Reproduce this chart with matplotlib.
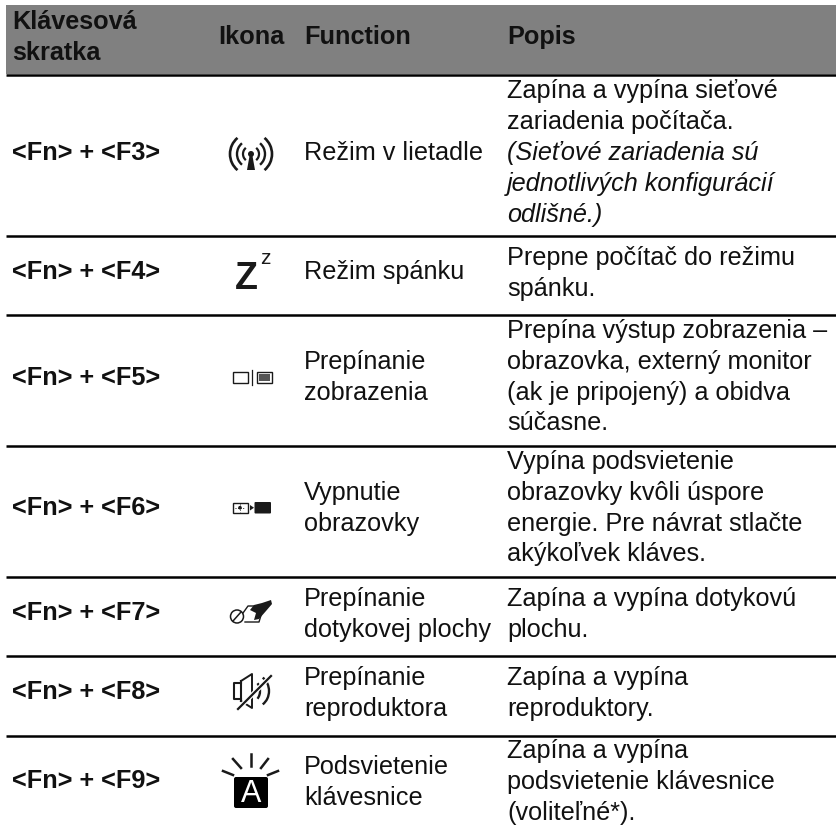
import matplotlib
matplotlib.use('Agg')
import matplotlib.pyplot as plt
from matplotlib.patches import Rectangle, Circle, Arc, Polygon, FancyBboxPatch

plt.rcParams['font.family'] = ['Liberation Sans', 'DejaVu Sans']

headers = ['Ikona', 'Function', 'Popis']
header_first = ['Klávesová', 'skratka']
keys = ['<Fn> + <F3>', '<Fn> + <F4>', '<Fn> + <F5>', '<Fn> + <F6>',
        '<Fn> + <F7>', '<Fn> + <F8>', '<Fn> + <F9>']
functions = [['Režim v lietadle'], ['Režim spánku'], ['Prepínanie', 'zobrazenia'],
             ['Vypnutie', 'obrazovky'], ['Prepínanie', 'dotykovej plochy'],
             ['Prepínanie', 'reproduktora'], ['Podsvietenie', 'klávesnice']]
descriptions = [['Zapína a vypína sieťové', 'zariadenia počítača.'],
                ['Prepne počítač do režimu', 'spánku.'],
                ['Prepína výstup zobrazenia –', 'obrazovka, externý monitor',
                 '(ak je pripojený) a obidva', 'súčasne.'],
                ['Vypína podsvietenie', 'obrazovky kvôli úspore',
                 'energie. Pre návrat stlačte', 'akýkoľvek kláves.'],
                ['Zapína a vypína dotykovú', 'plochu.'],
                ['Zapína a vypína', 'reproduktory.'],
                ['Zapína a vypína', 'podsvietenie klávesnice', '(voliteľné*).']]
note = ['(Sieťové zariadenia sú', 'jednotlivých konfigurácií', 'odlišné.)']

# polohy v pixeloch
row_lines = [75, 236, 315, 446, 577, 656, 736]
key_y = [160, 279, 385, 515, 620, 699, 788]
func_y = [160, 279, 369, 500, 606, 685, 774]
desc_y = [98, 265, 338, 469, 606, 685, 758]
note_y = 160
LINE = 30.8
FS = 18.2
X_KEY, X_FUNC, X_DESC = 12, 304, 507
TXT = '#111111'

fig = plt.figure(figsize=(8.36, 8.32), dpi=100)
ax = fig.add_axes([0, 0, 1, 1])
ax.set_xlim(0, 836)
ax.set_ylim(832, 0)
ax.axis('off')

ax.add_patch(Rectangle((6, 5), 830, 69, fc='#808080', ec='none'))
for y in row_lines:
    ax.plot([6, 836], [y, y], color='black', lw=1.8, solid_capstyle='butt')


def put(x, y, lines, **kw):
    for n, s in enumerate(lines):
        ax.text(x, y + n * LINE, s, fontsize=FS, color=TXT, va='baseline', **kw)


put(X_KEY, 29, header_first, fontweight='bold')
for x, h in zip([218, X_FUNC, X_DESC], headers):
    put(x, 44, [h], fontweight='bold')

for i in range(len(keys)):
    put(X_KEY, key_y[i], [keys[i]], fontweight='bold')
    put(X_FUNC, func_y[i], functions[i])
    put(X_DESC, desc_y[i], descriptions[i])
put(X_DESC, note_y, note, style='italic')

# ikony
K = '#1a1a1a'
# lietadlo / wifi
cx, cy = 251, 154
for r, lw in [(8, 1.6), (14, 1.7), (21, 1.9)]:
    ax.add_patch(Arc((cx, cy), 2 * r, 2 * r, theta1=130, theta2=230, color=K, lw=lw))
    ax.add_patch(Arc((cx, cy), 2 * r, 2 * r, theta1=-50, theta2=50, color=K, lw=lw))
ax.add_patch(Circle((cx, cy), 3, fc=K, ec='none'))
ax.add_patch(Polygon([(cx - 1.5, cy + 2), (cx + 1.5, cy + 2), (cx + 4, cy + 16), (cx - 4, cy + 16)], fc=K, ec='none'))
# spanok
ax.text(235, 289, 'Z', fontsize=27, fontweight='bold', color=K, va='baseline', ha='left')
ax.text(260, 264, 'z', fontsize=15, color=K, va='baseline', ha='left')
# zobrazenie
ax.add_patch(Rectangle((232.5, 372), 15, 10.5, fc='white', ec=K, lw=1))
ax.plot([251.5, 251.5], [370, 385], color=K, lw=0.9)
ax.add_patch(Rectangle((256.5, 372), 15, 10.5, fc='white', ec=K, lw=1))
ax.add_patch(Rectangle((258.5, 374), 11, 6.5, fc='#555555', ec='none'))
# obrazovka vyp
ax.add_patch(Rectangle((232.5, 502.5), 15, 10.5, fc='white', ec=K, lw=1))
ax.plot([235, 245], [507.7, 507.7], color=K, lw=0.7, ls=':')
ax.plot([240, 240], [504, 511.5], color=K, lw=0.7, ls=':')
ax.add_patch(Circle((240, 507.7), 1.8, fc=K, ec='none'))
ax.add_patch(Polygon([(250, 505), (254, 507.7), (250, 510.5)], fc=K, ec='none'))
ax.add_patch(FancyBboxPatch((254.5, 502), 16.5, 11.5, boxstyle='round,pad=0,rounding_size=1', fc=K, ec='none'))
# touchpad
ax.plot([243, 248, 262], [613, 606, 606], color=K, lw=1)
ax.plot([245, 259, 262], [622, 622, 612], color=K, lw=1)
ax.add_patch(Circle((237, 616.5), 6.5, fc='white', ec=K, lw=1.1))
ax.plot([233, 241], [621, 612], color=K, lw=1.1)
ax.add_patch(Polygon([(250, 610), (254, 605), (262, 603), (271, 600), (272, 604), (266, 611),
                      (259, 619), (254, 620), (256, 613)], fc=K, ec='none'))
# reproduktor
ax.plot([241, 234, 234, 241], [683, 683, 699, 699], color=K, lw=1.5)
ax.plot([241, 241], [681, 701], color=K, lw=1.5)
ax.plot([241, 252, 252, 241], [681, 674, 708, 701], color=K, lw=1.4)
ax.add_patch(Arc((253, 691), 14, 20, theta1=-60, theta2=60, color=K, lw=1.7))
ax.add_patch(Arc((255, 691), 28, 32, theta1=-60, theta2=60, color=K, lw=1.7))
ax.plot([238, 271], [709, 676], color='white', lw=3.4)
ax.plot([238, 271], [709, 676], color=K, lw=1.6)
# klavesnica
ax.add_patch(FancyBboxPatch((234, 777), 34, 31, boxstyle='round,pad=0,rounding_size=2', fc='black', ec='none'))
ax.text(251, 802, 'A', fontsize=22, color='white', ha='center', va='baseline')
for x0, y0, x1, y1 in [(250.5, 754, 250.5, 766), (233, 759, 241, 768), (268, 759, 261, 768),
                       (223, 771, 233, 775), (278, 771, 268, 775)]:
    ax.plot([x0, x1], [y0, y1], color=K, lw=1.8)

fig.savefig('out.png', dpi=100)
